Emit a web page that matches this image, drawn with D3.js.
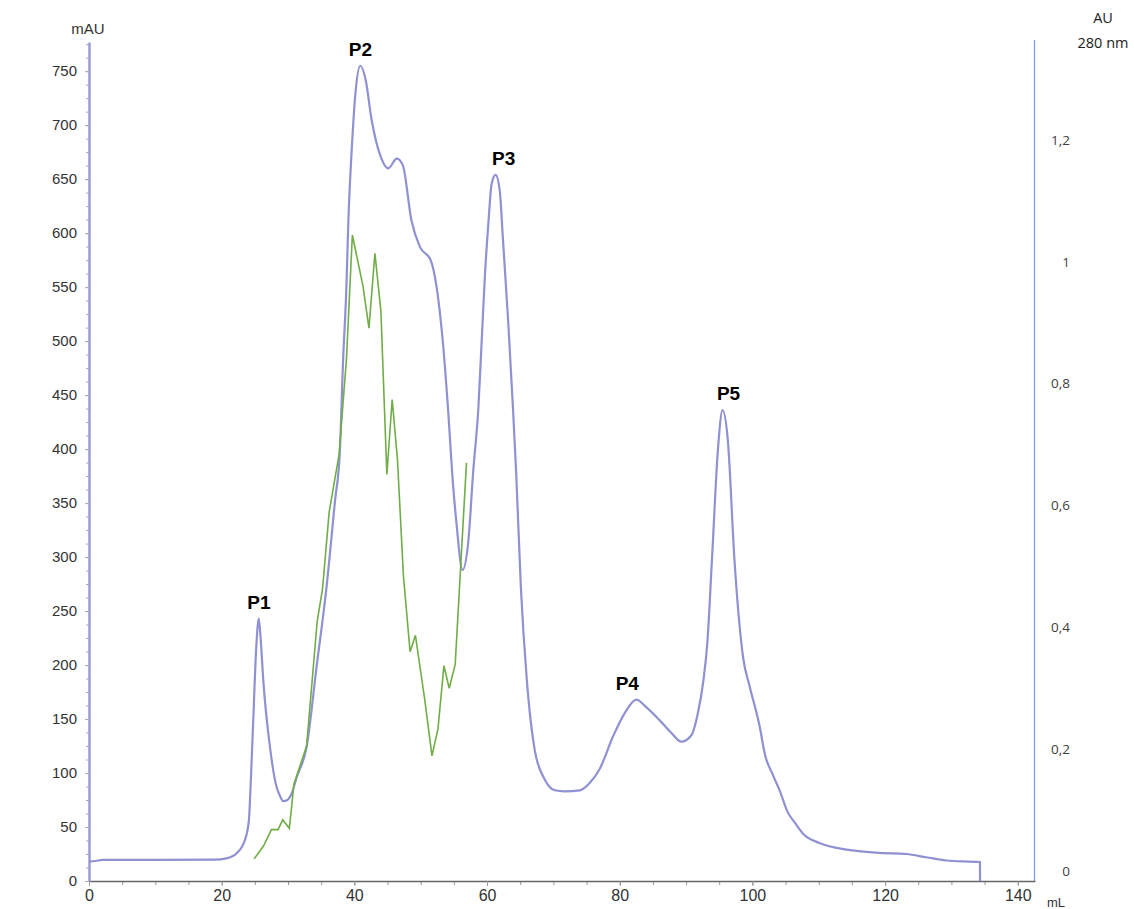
<!DOCTYPE html>
<html>
<head>
<meta charset="utf-8">
<script src="https://cdn.jsdelivr.net/npm/d3@7"></script>
<style>
  body { margin: 0; background: #fff; }
  svg { font-family: "Liberation Sans", Arial, sans-serif; }
</style>
</head>
<body>
<div id="chart-area"></div>
<script>
// UV trace (mAU) against elution volume (mL)
const blueMl = [0, 1, 2, 10, 19, 20.7, 22.3, 23.5, 24.1, 24.4, 24.76, 25.2, 25.6, 25.9, 26.27, 27.28, 28.28, 28.7, 29.3, 29.9, 30.55, 31.3,
  32.8, 34.3, 35.8, 37.1, 37.8, 38.3, 38.8, 39.1, 39.6, 40.2, 40.9, 41.7, 42.6, 43.9, 45.1, 46.4, 47.3, 48.6, 49.9, 51.5,
  52.4, 53.4, 54.1, 54.9, 55.4, 56.3, 57.2, 57.9, 58.7, 59.2, 59.7, 60.2, 60.7, 61.3, 61.9, 62.4, 63.2, 63.9, 64.4, 65.1,
  66.0, 67.2, 68.7, 70.2, 71.7, 74.0, 75.5, 77.0, 79.0, 80.8, 82.5, 84.0, 86.0, 87.8, 89.3, 90.8, 91.8, 92.6, 93.2, 93.9,
  94.8, 95.5, 96.3, 97.3, 98.6, 99.6, 101.1, 101.9, 103.1, 104.1, 105.3, 106.4, 107.6, 110.2, 114.2, 119.2, 123.2, 126.2,
  129.2, 134.3, 134.32];
const blueMau = [18, 18.5, 19.5, 19.5, 19.8, 21, 26, 38, 56, 94, 149, 215, 243, 222, 186, 124, 87, 80, 74, 75, 81, 96,
  124, 198, 272, 353, 396, 482, 550, 612, 677, 732, 755, 742, 705, 672, 660, 669, 663, 612, 587, 575,
  550, 495, 439, 365, 331, 288, 316, 378, 439, 501, 563, 609, 646, 654, 640, 594, 517, 439, 377, 272,
  186, 121, 94, 84, 83, 84, 91, 104, 134, 156, 168, 161, 149, 137, 129, 135, 156, 185, 220, 297,
  399, 436, 408, 297, 207, 180, 143, 117, 98, 84, 64, 54, 44, 35, 29, 26, 25, 22,
  19, 17.5, 0];

// fraction assay (AU, 280 nm) on the right axis
const greenMl = [24.9, 26.3, 27.5, 28.5, 29.2, 30.2, 30.9, 32.8, 34.4, 35.2, 36.2, 37.7, 38.1, 38.8, 39.7, 41.3, 42.2, 43.1,
  44.0, 44.9, 45.7, 46.5, 47.4, 48.4, 49.2, 50.6, 51.7, 52.6, 53.5, 54.3, 55.2, 56.9];
const greenAu = [0.020, 0.041, 0.068, 0.068, 0.084, 0.070, 0.143, 0.205, 0.410, 0.463, 0.589, 0.684, 0.741, 0.839, 1.044, 0.960, 0.891, 1.014,
  0.919, 0.651, 0.774, 0.675, 0.484, 0.360, 0.387, 0.282, 0.189, 0.233, 0.337, 0.300, 0.339, 0.670];

const peakNames = ['P1', 'P2', 'P3', 'P4', 'P5'];
const peakMl = [25.6, 40.9, 61.3, 82.5, 95.5];
const peakMau = [243, 755, 654, 168, 436];

const xTicks = [0, 20, 40, 60, 80, 100, 120, 140];
const yTicks = d3.range(0, 751, 50);
const auTicks = [0, 0.2, 0.4, 0.6, 0.8, 1, 1.2];
const auLabels = ['0', '0,2', '0,4', '0,6', '0,8', '1', '1,2'];

const W = 1134, H = 909;
const svg = d3.select('#chart-area').append('svg')
  .attr('width', W).attr('height', H);

const x = d3.scaleLinear().domain([0, 142.6]).range([89, 1035]);
const y = d3.scaleLinear().domain([0, 777]).range([881, 42]);
const yR = d3.scaleLinear().domain([0, 1.2]).range([871, 140]);

// bottom axis (minor + major ticks)
svg.append('g')
  .attr('transform', 'translate(0,881)')
  .call(d3.axisBottom(x).tickValues(d3.range(5, 141, 5)).tickSize(4).tickSizeOuter(0).tickFormat(''))
  .call(g => g.select('.domain').remove())
  .call(g => g.selectAll('line').attr('stroke', '#999'));

svg.append('g')
  .attr('transform', 'translate(0,881)')
  .call(d3.axisBottom(x).tickValues(xTicks).tickSize(5).tickSizeOuter(0).tickPadding(4))
  .call(g => g.select('.domain').attr('stroke', '#666').attr('stroke-width', 1.5))
  .call(g => g.selectAll('line').attr('stroke', '#999'))
  .call(g => g.selectAll('text').attr('fill', '#333').style('font-size', '16px').style('font-family', '"Liberation Sans", Arial, sans-serif'));

// left axis
svg.append('g')
  .attr('transform', 'translate(89,0)')
  .call(d3.axisLeft(y).tickValues(d3.range(0, 776, 12.5)).tickSize(3).tickSizeOuter(0).tickFormat(''))
  .call(g => g.select('.domain').remove())
  .call(g => g.selectAll('line').attr('stroke', '#aaa'));

svg.append('g')
  .attr('transform', 'translate(89,0)')
  .call(d3.axisLeft(y).tickValues(yTicks).tickSize(4).tickSizeOuter(0).tickPadding(8))
  .call(g => g.select('.domain').attr('stroke', '#9b9bd9').attr('stroke-width', 2.5))
  .call(g => g.selectAll('line').attr('stroke', '#aaa'))
  .call(g => g.selectAll('text').attr('fill', '#333').style('font-size', '15px').style('font-family', '"Liberation Sans", Arial, sans-serif'));

svg.append('text')
  .attr('x', 88).attr('y', 34)
  .attr('text-anchor', 'middle')
  .attr('fill', '#333')
  .style('font-size', '15px')
  .text('mAU');

svg.append('text')
  .attr('x', 1056).attr('y', 907)
  .attr('text-anchor', 'middle')
  .attr('fill', '#333')
  .style('font-size', '13px')
  .text('mL');

// right axis
svg.append('line')
  .attr('x1', 1034.5).attr('x2', 1034.5)
  .attr('y1', 40).attr('y2', 881)
  .attr('stroke', '#7a9ad8').attr('stroke-width', 1.2);

svg.append('g')
  .selectAll('text')
  .data(auTicks)
  .enter()
  .append('text')
  .attr('x', 1070)
  .attr('y', d => yR(d))
  .attr('dy', '0.35em')
  .attr('text-anchor', 'end')
  .attr('fill', '#404040')
  .style('font-family', '"Open Sans", sans-serif')
  .style('font-size', '13.5px')
  .text((d, i) => auLabels[i]);

svg.append('text')
  .attr('x', 1103).attr('y', 23)
  .attr('text-anchor', 'middle')
  .attr('fill', '#222')
  .style('font-family', '"Open Sans", sans-serif')
  .style('font-size', '14.5px')
  .text('AU');

svg.append('text')
  .attr('x', 1103).attr('y', 48)
  .attr('text-anchor', 'middle')
  .attr('fill', '#222')
  .style('font-family', '"Open Sans", sans-serif')
  .style('font-size', '14.5px')
  .text('280 nm');

// traces
const blueData = blueMl.map((v, i) => [v, blueMau[i]]);
const greenData = greenMl.map((v, i) => [v, greenAu[i]]);

svg.append('path')
  .datum(blueData)
  .attr('fill', 'none')
  .attr('stroke', '#8f91d3')
  .attr('stroke-width', 2.2)
  .attr('d', d3.line().x(d => x(d[0])).y(d => y(d[1])).curve(d3.curveMonotoneX));

svg.append('path')
  .datum(greenData)
  .attr('fill', 'none')
  .attr('stroke', '#70ad47')
  .attr('stroke-width', 1.6)
  .attr('d', d3.line().x(d => x(d[0])).y(d => yR(d[1])));

// peak labels
const labelDx = [0, 0, 8, -9, 6];
svg.append('g')
  .selectAll('text')
  .data(peakNames)
  .enter()
  .append('text')
  .attr('x', (d, i) => x(peakMl[i]) + labelDx[i])
  .attr('y', (d, i) => y(peakMau[i]) - 10)
  .attr('text-anchor', 'middle')
  .attr('fill', '#000')
  .style('font-weight', 'bold')
  .style('font-size', '19px')
  .text(d => d);
</script>
</body>
</html>
